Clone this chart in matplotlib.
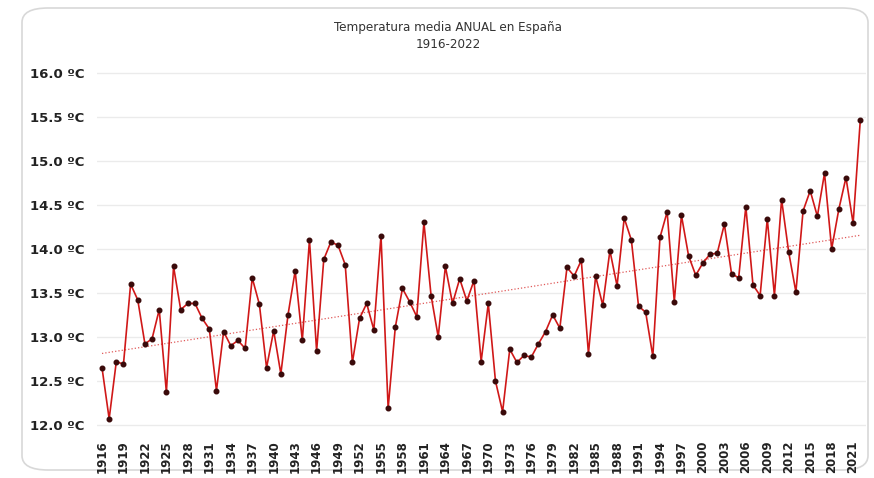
import numpy as np
import matplotlib
matplotlib.use("Agg")
import matplotlib.pyplot as plt
from matplotlib.patches import FancyBboxPatch

# ---- data ----
years = list(range(1916, 2023))
temps = [
    12.65, 12.07, 12.72, 12.69, 13.60, 13.42, 12.92, 12.98, 13.31, 12.37,  # 1916-1925
    13.80, 13.31, 13.38, 13.38, 13.21, 13.09, 12.39, 13.06, 12.90, 12.96,  # 1926-1935
    12.87, 13.67, 13.37, 12.65, 13.07, 12.58, 13.25, 13.75, 12.96, 14.10,  # 1936-1945
    12.84, 13.88, 14.08, 14.04, 13.82, 12.71, 13.21, 13.38, 13.08, 14.15,  # 1946-1955
    12.19, 13.11, 13.55, 13.40, 13.23, 14.30, 13.47, 13.00, 13.80, 13.38,  # 1956-1965
    13.66, 13.41, 13.64, 12.72, 13.38, 12.50, 12.15, 12.86, 12.71, 12.79,  # 1966-1975
    12.77, 12.92, 13.06, 13.25, 13.10, 13.79, 13.69, 13.87, 12.81, 13.69,  # 1976-1985
    13.36, 13.98, 13.58, 14.35, 14.10, 13.35, 13.28, 12.78, 14.13, 14.42,  # 1986-1995
    13.40, 14.38, 13.92, 13.70, 13.84, 13.94, 13.95, 14.28, 13.72, 13.67,  # 1996-2005
    14.48, 13.59, 13.47, 14.34, 13.47, 14.56, 13.96, 13.51, 14.43, 14.66,  # 2006-2015
    14.37, 14.86, 14.00, 14.45, 14.81, 14.29, 15.46,                       # 2016-2022
]
ytick_vals = [12.0, 12.5, 13.0, 13.5, 14.0, 14.5, 15.0, 15.5, 16.0]
xtick_years = list(range(1916, 2022, 3))
title = "Temperatura media ANUAL en España\n1916-2022"

fig = plt.figure(figsize=(8.74, 4.78), dpi=100)
fig.patch.set_facecolor("white")

# rounded card frame (behind everything)
card = FancyBboxPatch((22 / 874, 8 / 478), 846 / 874, 462 / 478,
                      boxstyle="round,pad=0,rounding_size=0.03",
                      transform=fig.transFigure, facecolor="none",
                      edgecolor="#d8d8d8", linewidth=1.2, zorder=-10)
fig.patches.append(card)

ax = fig.add_axes([97 / 874, 1 - 432 / 478, 769 / 874, 368 / 478])
ax.set_facecolor("none")

ax.plot(years, temps, color="#d01818", linewidth=1.2, zorder=3)
ax.plot(years, temps, linestyle="none", marker="o", markersize=3.3,
        color="#3a0a0a", zorder=4)

# linear trend
coef = np.polyfit(years, temps, 1)
ax.plot(years, np.polyval(coef, years), color="#e05a5a", linestyle=":",
        linewidth=0.9, zorder=2)

ax.set_xlim(1915.3, 2022.8)
ax.set_ylim(11.92, 16.10)
ax.set_yticks(ytick_vals)
ax.set_yticklabels([f"{v:.1f} ºC" for v in ytick_vals],
                   fontsize=9.5, fontweight="bold", color="#222222")
for lbl in ax.get_yticklabels():
    lbl.set_horizontalalignment("left")
ax.tick_params(axis="y", length=0, pad=48)

ax.set_xticks(xtick_years)
ax.set_xticklabels([str(y) for y in xtick_years], rotation=90,
                   fontsize=8.5, fontweight="bold", color="#222222")
ax.tick_params(axis="x", length=0, pad=6)

ax.grid(axis="y", color="#ebebeb", linewidth=1.0, zorder=0)
for s in ax.spines.values():
    s.set_visible(False)

fig.text(448 / 874, 1 - 36 / 478, title, ha="center", va="center",
         fontsize=9.5, color="#333333", linespacing=1.5,
         fontstretch="condensed", family=["DejaVu Sans"])

fig.savefig("out.png", dpi=100)
